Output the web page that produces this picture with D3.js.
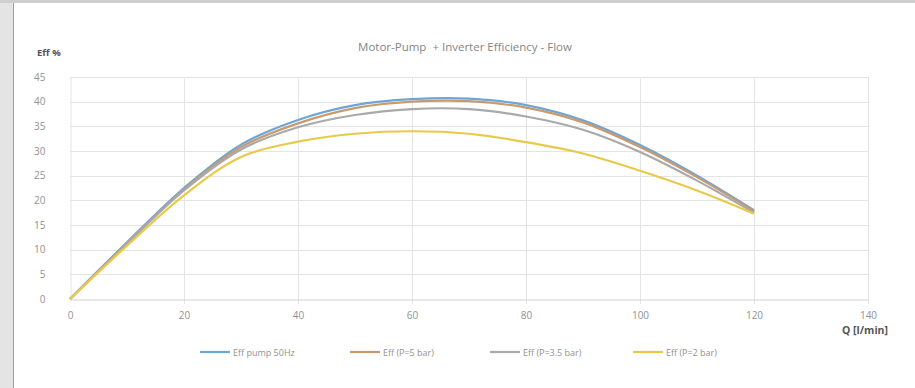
<!DOCTYPE html>
<html>
<head>
<meta charset="utf-8">
<script src="https://cdn.jsdelivr.net/npm/d3@7"></script>
<style>
  body { margin: 0; background: #e4e4e4; }
  svg { display: block; }
  text { font-family: "Open Sans", "Noto Sans", sans-serif; }
</style>
</head>
<body>
<script>
// flow values, l/min
var flow = [0, 10, 20, 30, 40, 50, 60, 70, 80, 90, 100, 110, 120];
// efficiency %
var effPump50 = [0, 11.5, 22.5, 31.3, 36.3, 39.3, 40.5, 40.6, 39.3, 36.2, 31.2, 25, 18];
var effP5     = [0, 11.3, 22.2, 30.8, 35.6, 38.7, 40,   40.1, 38.8, 35.8, 30.8, 24.7, 17.8];
var effP35    = [0, 11.2, 22,   30.3, 34.8, 37.3, 38.5, 38.5, 37,   34.3, 29.8, 24,   17.5];
var effP2     = [0, 10.8, 21,   28.8, 31.9, 33.5, 34,   33.5, 31.8, 29.5, 26,   22,   17.3];

var seriesNames = ["Eff pump 50Hz", "Eff (P=5 bar)", "Eff (P=3.5 bar)", "Eff (P=2 bar)"];
var seriesColors = ["#6ea6d6", "#c99a6e", "#a9a9a9", "#e9c94a"];
var seriesValues = [effPump50, effP5, effP35, effP2];

var xTicks = [0, 20, 40, 60, 80, 100, 120, 140];
var yTicks = [0, 5, 10, 15, 20, 25, 30, 35, 40, 45];

var W = 915, H = 388;
var svg = d3.select("body").append("svg").attr("width", W).attr("height", H);

// white card with grey border
svg.append("rect").attr("x", 13).attr("y", 3).attr("width", W - 13).attr("height", H - 3)
  .attr("fill", "#fff");
svg.append("line").attr("x1", 13.5).attr("x2", 13.5).attr("y1", 3).attr("y2", H)
  .attr("stroke", "#a0a0a0");
svg.append("rect").attr("x", 0).attr("y", 0).attr("width", W).attr("height", 3).attr("fill", "#cfcfcf");

var x = d3.scaleLinear().domain([0, 140]).range([70, 868]);
var y = d3.scaleLinear().domain([0, 45]).range([299, 77]);

// grid
svg.append("g").selectAll("line").data(yTicks.slice(1)).enter().append("line")
  .attr("x1", x(0)).attr("x2", x(140))
  .attr("y1", function(d){ return Math.round(y(d)) + 0.5; })
  .attr("y2", function(d){ return Math.round(y(d)) + 0.5; })
  .attr("stroke", "#e4e4e4");
svg.append("g").selectAll("line").data(xTicks.slice(1)).enter().append("line")
  .attr("x1", function(d){ return Math.round(x(d)) + 0.5; })
  .attr("x2", function(d){ return Math.round(x(d)) + 0.5; })
  .attr("y1", y(45)).attr("y2", y(0) + 5)
  .attr("stroke", "#e4e4e4");

// axes
var xAxis = svg.append("g").attr("transform", "translate(0," + (Math.round(y(0)) + 0.5) + ")")
  .call(d3.axisBottom(x).tickValues(xTicks).tickSize(0).tickPadding(12));
var yAxis = svg.append("g").attr("transform", "translate(" + (Math.round(x(0)) + 0.5) + ",0)")
  .call(d3.axisLeft(y).tickValues(yTicks).tickSize(0).tickPadding(25));
xAxis.select(".domain").attr("stroke", "#d0d0d0");
yAxis.select(".domain").attr("stroke", "#e4e4e4");
svg.selectAll(".tick text").attr("fill", "#929292").attr("font-size", 10)
  .attr("font-family", "'Open Sans', sans-serif");

// lines
var line = d3.line()
  .x(function(d, i){ return x(flow[i]); })
  .y(function(d){ return y(d); })
  .curve(d3.curveCatmullRom.alpha(0.5));

svg.append("g").selectAll("path").data(seriesValues).enter().append("path")
  .attr("d", line)
  .attr("fill", "none")
  .attr("stroke", function(d, i){ return seriesColors[i]; })
  .attr("stroke-width", 2.2);

// titles
svg.append("text").attr("x", 465).attr("y", 51).attr("text-anchor", "middle")
  .attr("font-size", 11.5).attr("fill", "#858585").style("white-space", "pre")
  .text("Motor-Pump  + Inverter Efficiency - Flow");
svg.append("text").attr("x", 37).attr("y", 56)
  .attr("font-size", 9.5).attr("fill", "#555").attr("font-weight", "bold").text("Eff %");
svg.append("text").attr("x", 888).attr("y", 334).attr("text-anchor", "end")
  .attr("font-size", 10.5).attr("fill", "#555").attr("font-weight", "bold").text("Q [l/min]");

// legend
var legendX = [200, 350, 490, 633];
var legend = svg.append("g").selectAll("g").data(seriesNames).enter().append("g")
  .attr("transform", function(d, i){ return "translate(" + legendX[i] + ",352)"; });
legend.append("line").attr("x1", 0).attr("x2", 30).attr("y1", 0).attr("y2", 0)
  .attr("stroke", function(d, i){ return seriesColors[i]; }).attr("stroke-width", 2.2);
legend.append("text").attr("x", 33).attr("y", 3.5).attr("font-size", 9)
  .attr("fill", "#929292").text(function(d){ return d; });
</script>
</body>
</html>
